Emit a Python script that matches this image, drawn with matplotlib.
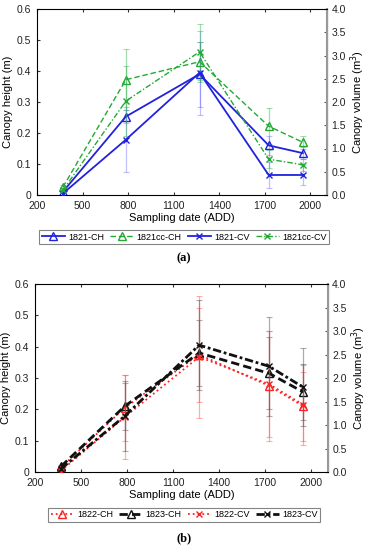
import matplotlib.pyplot as plt
from matplotlib.ticker import FormatStrFormatter

# sampling dates (ADD)
add = [370, 785, 1270, 1725, 1950]

# panel (a) - canopy height (m) and canopy volume (m3)
ch_1821 = [0.010, 0.253, 0.390, 0.160, 0.135]
ch_1821_err = [0.005, 0.020, 0.105, 0.030, 0.020]
ch_1821cc = [0.025, 0.372, 0.430, 0.222, 0.170]
ch_1821cc_err = [0.008, 0.098, 0.065, 0.058, 0.020]
cv_1821 = [0.03, 1.19, 2.63, 0.43, 0.43]
cv_1821_err = [0.02, 0.70, 0.90, 0.27, 0.22]
cv_1821cc = [0.10, 2.02, 3.08, 0.77, 0.65]
cv_1821cc_err = [0.05, 0.75, 0.60, 0.20, 0.13]

# panel (b)
ch_1822 = [0.015, 0.205, 0.375, 0.275, 0.210]
ch_1822_err = [0.005, 0.105, 0.150, 0.175, 0.110]
ch_1823 = [0.018, 0.210, 0.380, 0.315, 0.255]
ch_1823_err = [0.005, 0.075, 0.105, 0.115, 0.090]
cv_1822 = [0.03, 1.17, 2.45, 1.87, 1.43]
cv_1822_err = [0.02, 0.90, 1.30, 1.12, 0.85]
cv_1823 = [0.07, 1.19, 2.70, 2.25, 1.80]
cv_1823_err = [0.03, 0.75, 0.95, 1.05, 0.83]

plt.rcParams['font.family'] = ['Liberation Sans', 'DejaVu Sans']
plt.rcParams['font.size'] = 7.5

fig = plt.figure(figsize=(3.68, 5.5), dpi=100)


def setup_axes(ax, ax2):
    ax.set_xlim(200, 2110)
    ax.set_ylim(0, 0.6)
    ax2.set_ylim(0, 4.0)
    ax.set_xticks([200, 500, 800, 1100, 1400, 1700, 2000])
    ax.set_yticks([0, 0.1, 0.2, 0.3, 0.4, 0.5, 0.6])
    ax.set_yticklabels(['0', '0.1', '0.2', '0.3', '0.4', '0.5', '0.6'])
    ax2.set_yticks([0, 0.5, 1.0, 1.5, 2.0, 2.5, 3.0, 3.5, 4.0])
    ax2.yaxis.set_major_formatter(FormatStrFormatter('%.1f'))
    ax.tick_params(direction='in', length=2.5, labelsize=7.5, colors='#333333',
                   top=True, labelcolor='#222222', pad=3)
    ax.tick_params(axis='x', pad=4)
    ax.tick_params(axis='y', right=False, pad=4)
    ax2.tick_params(direction='in', length=2.5, labelsize=7.5, colors='#555555',
                    labelcolor='#222222', pad=3)
    for s in ['left', 'bottom', 'top']:
        ax.spines[s].set_color('#444444')
        ax.spines[s].set_linewidth(0.6)
    ax2.spines['right'].set_color('#999999')
    ax2.spines['right'].set_linewidth(1.5)
    ax.set_xlabel('Sampling date (ADD)', fontsize=8, labelpad=2)
    ax.set_ylabel('Canopy height (m)', fontsize=8, labelpad=3)
    ax2.set_ylabel('Canopy volume (m$^3$)', fontsize=8, labelpad=2)


def series(ax, y, err, color, ecolor, ls, marker, lw, label):
    ax.errorbar(add, y, yerr=err, fmt='none', ecolor=ecolor, elinewidth=0.9,
                capsize=2.5, capthick=0.8, zorder=1)
    ms = 6 if marker == '^' else 5
    h, = ax.plot(add, y, color=color, ls=ls, lw=lw, marker=marker, ms=ms,
                 mfc='none', mec=color, mew=1.0, label=label, zorder=3)
    return h


def add_legend(handles, y):
    leg = fig.legend(handles=handles, ncol=4, loc='center',
                     bbox_to_anchor=(0.5, y), fontsize=6.5, frameon=True,
                     fancybox=False, edgecolor='#666666', handlelength=2.6,
                     handletextpad=0.3, columnspacing=0.7, borderpad=0.25)
    leg.get_frame().set_linewidth(0.8)


# ---- panel (a)
ax = fig.add_axes([0.1005, 0.6455, 0.7885, 0.338])
ax2 = ax.twinx()
blue, green = '#2222dd', '#22aa33'
h1 = series(ax, ch_1821, ch_1821_err, blue, (0.3, 0.3, 1.0, 0.35), '-', '^', 1.3, '1821-CH')
h2 = series(ax, ch_1821cc, ch_1821cc_err, green, (0.2, 0.7, 0.3, 0.45), (0, (4, 2)), '^', 1.0, '1821cc-CH')
h3 = series(ax2, cv_1821, cv_1821_err, blue, (0.3, 0.3, 1.0, 0.35), '-', 'x', 1.3, '1821-CV')
h4 = series(ax2, cv_1821cc, cv_1821cc_err, green, (0.2, 0.7, 0.3, 0.45), (0, (4, 1.5, 1, 1.5)), 'x', 1.0, '1821cc-CV')
setup_axes(ax, ax2)
add_legend([h1, h2, h3, h4], 0.569)
fig.text(0.5, 0.531, '(a)', ha='center', va='center', fontsize=9,
         fontweight='bold', family=['Liberation Serif', 'DejaVu Serif'])

# ---- panel (b)
bx = fig.add_axes([0.0951, 0.1418, 0.7962, 0.3418])
bx2 = bx.twinx()
red, black = '#ff2222', '#111111'
g1 = series(bx, ch_1822, ch_1822_err, red, (1.0, 0.3, 0.3, 0.45), ':', '^', 1.3, '1822-CH')
g2 = series(bx, ch_1823, ch_1823_err, black, (0.35, 0.35, 0.35, 0.5), (0, (3, 1.5)), '^', 2.0, '1823-CH')
g3 = series(bx2, cv_1822, cv_1822_err, red, (1.0, 0.3, 0.3, 0.45), ':', 'x', 1.3, '1822-CV')
g4 = series(bx2, cv_1823, cv_1823_err, black, (0.35, 0.35, 0.35, 0.5), (0, (3, 1, 1, 1)), 'x', 2.0, '1823-CV')
setup_axes(bx, bx2)
add_legend([g1, g2, g3, g4], 0.064)
fig.text(0.5, 0.022, '(b)', ha='center', va='center', fontsize=9,
         fontweight='bold', family=['Liberation Serif', 'DejaVu Serif'])

fig.savefig('out.png', dpi=100)
